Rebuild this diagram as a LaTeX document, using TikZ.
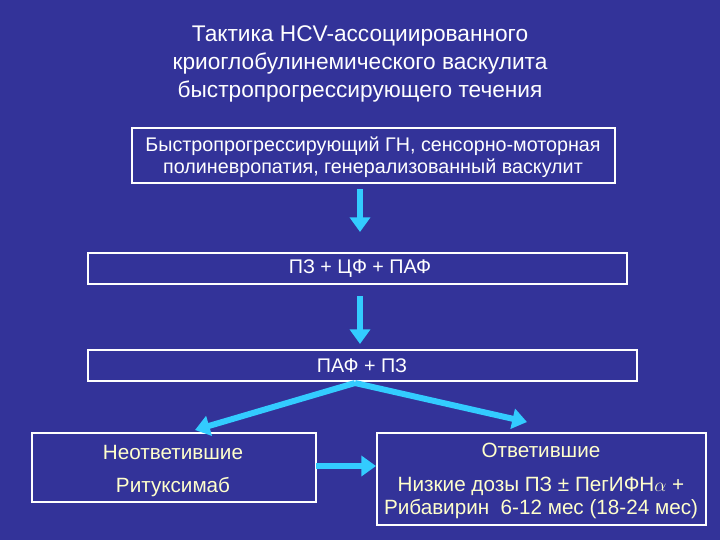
\documentclass[tikz,border=0pt]{standalone}
\usepackage{fontspec}
\setmainfont{Liberation Sans}
\usetikzlibrary{arrows.meta}
\definecolor{bg}{RGB}{51,51,153}
\definecolor{arr}{RGB}{51,204,255}
\definecolor{pale}{RGB}{255,255,204}
\begin{document}
\begin{tikzpicture}[x=0.75pt,y=-0.75pt,
  box/.style={draw=white,line width=0.8pt,inner sep=0pt},
  txt/.style={text=white,font=\fontsize{14.8}{16.5}\selectfont,align=center},
  ytxt/.style={text=pale,font=\fontsize{15.5}{17.3}\selectfont,align=center},
  big/.style={line width=4.5pt,arr,-{Triangle[width=15pt,length=11pt]}}]
\fill[bg] (0,0) rectangle (720,540);
\useasboundingbox (0,0) rectangle (720,540);
\node[text=white,font=\fontsize{17}{21}\selectfont,align=center] (title) at (360,64) {Тактика HCV-ассоциированного\\криоглобулинемического васкулита\\быстропрогрессирующего течения};
\draw[white,line width=0.8pt] (132,128) rectangle (615,183);
\coordinate (b1b) at (360,183);
\node[txt] (t1) at (373,157) {Быстропрогрессирующий ГН, сенсорно-моторная\\полиневропатия, генерализованный васкулит};
\draw[white,line width=0.8pt] (88,253) rectangle (627,284);
\coordinate (b2b) at (360,284);
\node[txt] (t2) at (360,269) {ПЗ + ЦФ + ПАФ};
\draw[white,line width=0.8pt] (88,350) rectangle (637,381);
\coordinate (b3b) at (355,383);
\node[txt] (t3) at (362,366) {ПАФ + ПЗ};
\draw[white,line width=0.8pt] (32,433) rectangle (316,502);
\coordinate (b4r) at (316,466); \coordinate (b4t) at (195,430);
\node[ytxt] (t4a) at (173,452) {Неответившие};
\node[ytxt] (t4b) at (173,487) {Ритуксимаб};
\draw[white,line width=0.8pt] (377,433) rectangle (706,525);
\coordinate (b5l) at (376,466); \coordinate (b5t) at (527,422);
\node[ytxt] (t5a) at (541,450) {Ответившие};
\node[ytxt] (t5b) at (541,498) {Низкие дозы ПЗ ± ПегИФН$\alpha$ +\\Рибавирин\ \ 6-12 мес (18-24 мес)};
\draw[big] (b1b)++(0,6) -- (360,232);
\draw[big] (b2b)++(0,12) -- (360,344);
\draw[big] (b3b) -- (b4t);
\draw[big] (b3b) -- (b5t);
\draw[big] (b4r) -- (b5l);
\end{tikzpicture}
\end{document}
